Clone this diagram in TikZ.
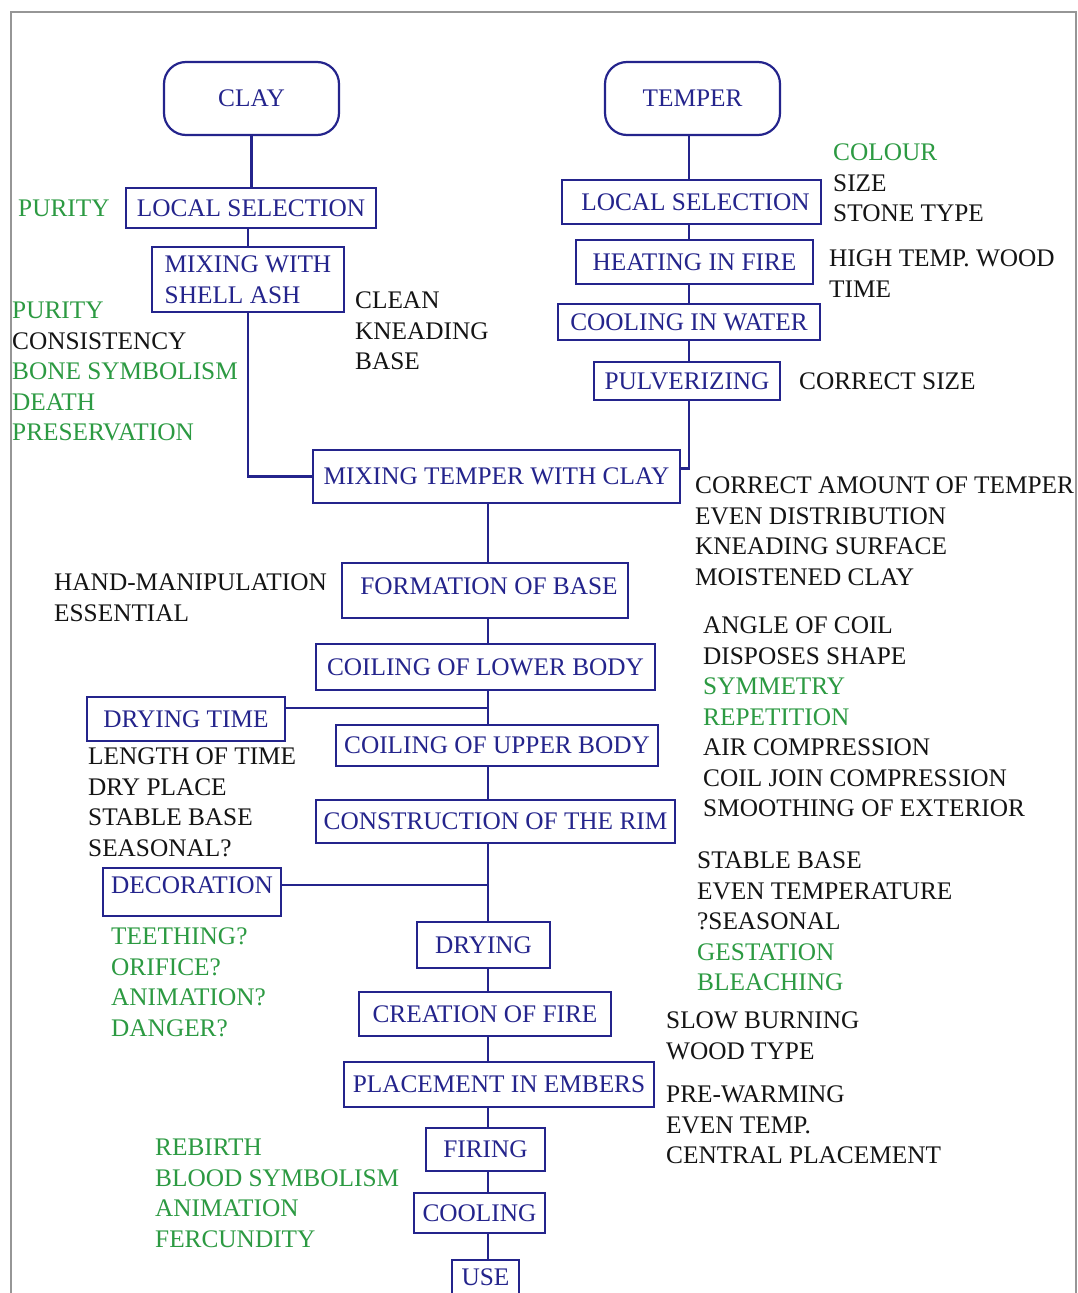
\documentclass[tikz,border=0pt]{standalone}
\usepackage{fontspec}
\setmainfont{Liberation Serif}
\definecolor{navy}{RGB}{36,36,140}
\definecolor{grn}{RGB}{44,154,66}
\definecolor{blk}{RGB}{20,20,20}
\definecolor{frm}{RGB}{150,150,150}
\newcommand\fs{\fontsize{25.3}{30.5}\selectfont}
\newcommand\gt[1]{\textcolor{grn}{#1}}
\newcommand\lns[4]{\foreach \myl [count=\i] in {#4}{\node[txt] (#1\i) at ({#2},{#3+(\i-1)*30.5}) {\myl};}}
\begin{document}
\begin{tikzpicture}[x=1pt,y=-1pt,
  box/.style={draw=navy, line width=2.2pt, text=navy, inner sep=0pt, font=\fs},
  rbox/.style={box, rounded corners=22pt},
  txt/.style={inner sep=0pt, text=blk, font=\fs, anchor=base west},
  conn/.style={draw=navy, line width=2.2pt}]
\useasboundingbox (0,0) rectangle (1078,1293);
\clip (0,0) rectangle (1078,1293);
\fill[white] (0,0) rectangle (1078,1293);
\draw[frm, line width=1.2pt] (11,1300) -- (11,12) -- (1076,12) -- (1076,1300);
\coordinate (sp) at (488,0);
\coordinate (rsp) at (689,0);
% left column
\node[rbox, minimum width=175pt, minimum height=73pt] (clay) at (251.5,98.5) {CLAY};
\node[box, minimum width=250pt, minimum height=40pt] (lsL) at (251,208) {LOCAL SELECTION};
\node[box, align=left, minimum width=192pt, minimum height=65pt] (mw) at (248,279.5) {MIXING WITH\\SHELL ASH};
% right column
\node[rbox, minimum width=175pt, minimum height=73pt] (temper) at (692.5,98.5) {TEMPER};
\node[box, minimum width=259pt, minimum height=44pt] (lsR) at (691.5,202) {\hspace*{8pt}LOCAL SELECTION};
\node[box, minimum width=237pt, minimum height=44pt] (hf) at (694.5,262) {HEATING IN FIRE};
\node[box, minimum width=262pt, minimum height=36pt] (cw) at (689,322) {COOLING IN WATER};
\node[box, minimum width=186pt, minimum height=38pt] (pv) at (687,381) {PULVERIZING};
% main spine
\node[box, minimum width=367pt, minimum height=53pt] (mt) at (496.5,476.5) {MIXING TEMPER WITH CLAY};
\node[box, minimum width=286pt, minimum height=55pt, text depth=9pt] (fb) at (485,590.5) {\hspace*{8pt}FORMATION OF BASE};
\node[box, minimum width=339pt, minimum height=46pt] (cl) at (485.5,667) {COILING OF LOWER BODY};
\node[box, minimum width=198pt, minimum height=44pt] (dt) at (186,719) {DRYING TIME};
\node[box, minimum width=322pt, minimum height=41pt] (cu) at (497,745.5) {COILING OF UPPER BODY};
\node[box, minimum width=359pt, minimum height=43pt] (rim) at (495.5,821.5) {CONSTRUCTION OF THE RIM};
\node[box, minimum width=178pt, minimum height=48pt, text depth=14pt] (dec) at (192,892) {DECORATION};
\node[box, minimum width=133pt, minimum height=46pt] (dry) at (483.5,945) {DRYING};
\node[box, minimum width=252pt, minimum height=44pt] (cf) at (485,1014) {CREATION OF FIRE};
\node[box, minimum width=310pt, minimum height=45pt] (pe) at (499,1084.5) {PLACEMENT IN EMBERS};
\node[box, minimum width=119pt, minimum height=43pt] (fi) at (485.5,1149.5) {FIRING};
\node[box, minimum width=131pt, minimum height=40pt] (co) at (479.5,1213) {COOLING};
\node[box, minimum width=67pt, minimum height=40pt, text depth=6pt] (use) at (485.5,1280) {USE};
% connectors
\draw[conn] (clay.south) -- (clay.south |- lsL.north);
\draw[conn] (mw.north |- lsL.south) -- (mw.north);
\draw[conn] (mw.south) |- (mt.west);
\draw[conn] (temper.south -| rsp) -- (lsR.north -| rsp);
\draw[conn] (lsR.south -| rsp) -- (hf.north -| rsp);
\draw[conn] (hf.south -| rsp) -- (cw.north -| rsp);
\draw[conn] (cw.south -| rsp) -- (pv.north -| rsp);
\draw[conn] (pv.south -| rsp) |- ([yshift=8pt]mt.east);
\draw[conn] (mt.south -| sp) -- (fb.north -| sp);
\draw[conn] (fb.south -| sp) -- (cl.north -| sp);
\draw[conn] (cl.south -| sp) -- (cu.north -| sp);
\draw[conn] ([yshift=11pt]dt.east) -- ([yshift=11pt]dt.east -| sp);
\draw[conn] (cu.south -| sp) -- (rim.north -| sp);
\draw[conn] (rim.south -| sp) -- (dry.north -| sp);
\draw[conn] ([yshift=7pt]dec.east) -- ([yshift=7pt]dec.east -| sp);
\draw[conn] (dry.south -| sp) -- (cf.north -| sp);
\draw[conn] (cf.south -| sp) -- (pe.north -| sp);
\draw[conn] (pe.south -| sp) -- (fi.north -| sp);
\draw[conn] (fi.south -| sp) -- (co.north -| sp);
\draw[conn] (co.south -| sp) -- (use.north -| sp);
% annotations
\lns{pa}{18}{216.5}{\gt{PURITY}}
\lns{pb}{12}{318.5}{\gt{PURITY}, CONSISTENCY, \gt{BONE SYMBOLISM}, \gt{DEATH}, \gt{PRESERVATION}}
\lns{ck}{355}{308.5}{CLEAN, KNEADING, BASE}
\lns{cs}{833}{160.5}{\gt{COLOUR}, SIZE, STONE TYPE}
\lns{ht}{829}{266.5}{HIGH TEMP. WOOD, TIME}
\lns{cz}{799}{389.5}{CORRECT SIZE}
\lns{ca}{695}{493.5}{CORRECT AMOUNT OF TEMPER, EVEN DISTRIBUTION, KNEADING SURFACE, MOISTENED CLAY}
\lns{hm}{54}{590.5}{HAND-MANIPULATION, ESSENTIAL}
\lns{ac}{703}{633.5}{ANGLE OF COIL, DISPOSES SHAPE, \gt{SYMMETRY}, \gt{REPETITION}, AIR COMPRESSION, COIL JOIN COMPRESSION, SMOOTHING OF EXTERIOR}
\lns{lt}{88}{764.5}{LENGTH OF TIME, DRY PLACE, STABLE BASE, SEASONAL?}
\lns{sb}{697}{868.5}{STABLE BASE, EVEN TEMPERATURE, ?SEASONAL, \gt{GESTATION}, \gt{BLEACHING}}
\lns{te}{111}{944.5}{\gt{TEETHING?}, \gt{ORIFICE?}, \gt{ANIMATION?}, \gt{DANGER?}}
\lns{sl}{666}{1028.5}{SLOW BURNING, WOOD TYPE}
\lns{pw}{666}{1102.5}{PRE-WARMING, EVEN TEMP., CENTRAL PLACEMENT}
\lns{rb}{155}{1155.5}{\gt{REBIRTH}, \gt{BLOOD SYMBOLISM}, \gt{ANIMATION}, \gt{FERCUNDITY}}
\end{tikzpicture}
\end{document}
